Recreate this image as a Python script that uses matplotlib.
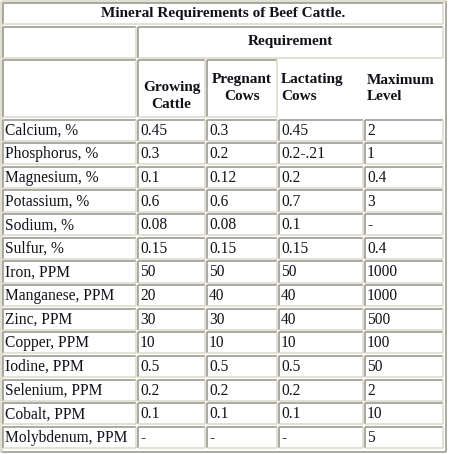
import matplotlib
matplotlib.use("Agg")
import matplotlib.pyplot as plt

title = "Mineral Requirements of Beef Cattle."
group_label = "Requirement"
col_headers = ["Growing\nCattle", "Pregnant\nCows", "Lactating\nCows", "Maximum\nLevel"]
minerals = ["Calcium, %", "Phosphorus, %", "Magnesium, %", "Potassium, %",
            "Sodium, %", "Sulfur, %", "Iron, PPM", "Manganese, PPM",
            "Zinc, PPM", "Copper, PPM", "Iodine, PPM", "Selenium, PPM",
            "Cobalt, PPM", "Molybdenum, PPM"]
growing = ["0.45", "0.3", "0.1", "0.6", "0.08", "0.15", "50", "20",
           "30", "10", "0.5", "0.2", "0.1", "-"]
pregnant = ["0.3", "0.2", "0.12", "0.6", "0.08", "0.15", "50", "40",
            "30", "10", "0.5", "0.2", "0.1", "-"]
lactating = ["0.45", "0.2-.21", "0.2", "0.7", "0.1", "0.15", "50", "40",
             "40", "10", "0.5", "0.2", "0.1", "-"]
maximum = ["2", "1", "0.4", "3", "-", "0.4", "1000", "1000",
           "500", "100", "50", "2", "10", "5"]

W, H = 450, 454
dark = "#9c9c94"
light = "#dedbcc"
font = "Liberation Serif"
fs = 11.2
color = "#101018"

fig = plt.figure(figsize=(W / 100, H / 100), dpi=100)
ax = fig.add_axes([0, 0, 1, 1])
ax.set_xlim(0, W)
ax.set_ylim(H, 0)
ax.axis("off")


def cell(x0, y0, x1, y1, outer=False):
    tl, br = (light, dark) if outer else (dark, light)
    ax.plot([x0, x1], [y0, y0], color=tl, lw=1.2, solid_capstyle="butt")
    ax.plot([x0, x0], [y0, y1], color=tl, lw=1.2, solid_capstyle="butt")
    ax.plot([x0, x1], [y1, y1], color=br, lw=1.2, solid_capstyle="butt")
    ax.plot([x1, x1], [y0, y1], color=br, lw=1.2, solid_capstyle="butt")


# outer table border
cell(0.5, 0.5, 445.5, 451.5, outer=True)
ax.plot([1.5, 444.5], [1.5, 1.5], color=light, lw=1.0)
ax.plot([1.5, 1.5], [1.5, 450.5], color=light, lw=1.0)

lefts = [3, 138, 207, 279, 365]
rights = [136, 205, 277, 363, 443]

# title row
cell(3, 3, 443, 24)
ax.text(223, 14, title, ha="center", va="center", fontsize=11,
        fontweight="bold", family=font, color=color)

# requirement row
cell(3, 27, 136, 58)
cell(138, 27, 443, 58)
ax.text((138 + 443) / 2, 42, group_label, ha="center", va="center",
        fontsize=11, fontweight="bold", family=font, color=color)

# header row
cell(3, 60, 136, 117)
cell(138, 60, 205, 117)
cell(207, 60, 277, 117)
hdr_pos = [((138 + 205) / 2, 96.5, "center"), ((207 + 277) / 2, 88.5, "center"),
           (281, 88.5, "left"), (367, 88.5, "left")]
for (hx, hy, ha), h in zip(hdr_pos, col_headers):
    ax.text(hx, hy, h, ha=ha, va="center", fontsize=11, fontweight="bold",
            family=font, linespacing=1.4, color=color)

# data rows
cols = [minerals, growing, pregnant, lactating, maximum]
top = 119.5
pitch = 23.64
for i in range(len(minerals)):
    y0 = top + i * pitch
    y1 = y0 + 21.2
    for j, col in enumerate(cols):
        cell(lefts[j], y0, rights[j], y1)
        ax.text(lefts[j] + 2, (y0 + y1) / 2 + 0.5, col[i], ha="left",
                va="center", fontsize=fs, family=font, color=color)

fig.savefig("out.png", dpi=100)
